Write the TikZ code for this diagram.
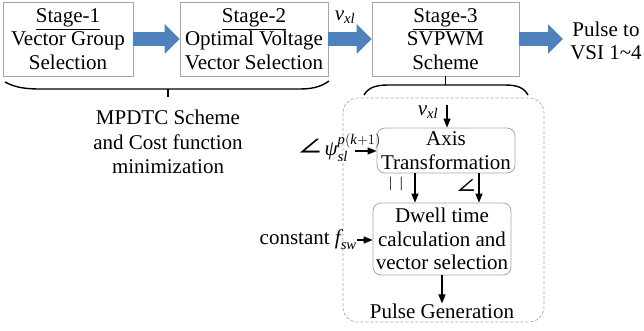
\documentclass[tikz,border=0pt]{standalone}
\usepackage{fontspec}
\setmainfont{Liberation Serif}
\newfontfamily\symfont{DejaVu Serif}
\usepackage{amsmath}
\usepackage{graphicx}
\usetikzlibrary{arrows.meta}
\definecolor{arrblue}{HTML}{4F81BD}
\definecolor{boxgray}{HTML}{A6A6A6}
\newcommand\tit[1]{\text{\itshape #1}}
\newcommand\stfont{\fontsize{21}{23.5}\selectfont}
\begin{document}
\begin{tikzpicture}[x=1pt,y=-1pt,
  stagebox/.style={draw=boxgray, line width=0.8pt, minimum width=#1, minimum height=74pt, inner sep=0pt, align=center, font=\stfont},
  stagebox/.default=130pt,
  roundbox/.style={draw=boxgray, line width=0.8pt, rounded corners=8pt, minimum width=138pt, inner sep=0pt, align=center, font=\stfont},
  plain/.style={inner sep=0pt, align=center, font=\stfont},
  bigarr/.style={draw=arrblue, line width=14pt, -{Triangle[width=29pt,length=15pt]}},
  smallarr/.style={draw=black, line width=1.3pt, -{Triangle[width=7pt,length=9pt]}},
  bracestyle/.style={draw=black, line width=1.4pt}]
\useasboundingbox (0,0) rectangle (644,330);

% stages
\node[stagebox=130pt] (s1) at (68,39) {\underline{Stage-1}\\Vector Group\\Selection};
\node[stagebox=148pt] (s2) at (254,39) {\underline{Stage-2}\\Optimal Voltage\\Vector Selection};
\node[stagebox=147pt] (s3) at (445.5,39) {\underline{Stage-3}\\SVPWM\\Scheme};
\coordinate (pend) at (563,39);
\node[plain] (pulse) at (606,41) {Pulse to\\VSI 1\textasciitilde4};

\draw[bigarr] (s1.east) -- (s2.west);
\draw[bigarr] (s2.east) -- (s3.west);
\draw[bigarr] (s3.east) -- (pend);
\node[plain] (vxl1) at (345,17) {$\tit{v}_{\tit{xl}}$};

% brace under stage 1 and 2
\draw[bracestyle] (5,82) .. controls (14,87) and (24,89) .. (40,89) -- (300,89) .. controls (314,89) and (322,86) .. (329,81);
\coordinate (b1tip) at (168,97);
\draw[bracestyle] (168,89) -- (b1tip);
\node[plain, font=\fontsize{21}{24.5}\selectfont] (mpdtc) at (168,142) {MPDTC Scheme\\and Cost function\\minimization};

% brace under stage 3
\draw[bracestyle] (364,95) .. controls (368,88) and (375,85) .. (388,85) -- (505,85) .. controls (518,85) and (524,88) .. (528,95);
\draw[bracestyle] (s3.south) -- (s3.south |- 0,85);

% dashed container
\draw[draw=boxgray, line width=0.7pt, densely dashed, rounded corners=15pt] (343,98) rectangle (544,322);

% inner boxes
\node[roundbox, minimum height=45pt] (axis) at (446,150.5) {Axis\\Transformation};
\node[roundbox, minimum height=72pt] (dwell) at (442,239) {Dwell time\\calculation and\\vector selection};
\node[plain] (pg) at (442,311) {Pulse Generation};

% inputs
\coordinate (vin) at (447,105);
\node[plain] (vxl2) at (428,112) {$\tit{v}_{\tit{xl}}$};
\draw[smallarr] (vin) -- (vin |- axis.north);

\coordinate (psin) at (355,151);
\node[plain, anchor=west] (psi) at (295,148) {{\symfont\fontsize{26}{26}\selectfont\scalebox{1.35}[0.95]{∠}}$\tit{ψ}_{\tit{sl}}^{\tit{p}(\tit{k}+1)}$};
\draw[smallarr] (psin) -- (psin -| axis.west);

\coordinate (fin) at (357,240);
\node[plain, anchor=east] (fsw) at (357,240) {constant $\tit{f}_{\tit{sw}}$};
\draw[smallarr] (fin) -- (fin -| dwell.west);

% between axis and dwell
\coordinate (m1) at (415,0);
\coordinate (m2) at (479,0);
\draw[smallarr] (m1 |- axis.south) -- (m1 |- dwell.north);
\draw[smallarr] (m2 |- axis.south) -- (m2 |- dwell.north);
\node[plain, font=\fontsize{15}{15}\selectfont] (mag) at (396,184) {|\hspace{8pt}|};
\node[plain, font=\symfont\fontsize{22}{22}\selectfont] (ang) at (466,187) {\scalebox{1.3}[0.95]{∠}};

\draw[smallarr] (pg.north |- dwell.south) -- (pg.north);
\end{tikzpicture}
\end{document}
